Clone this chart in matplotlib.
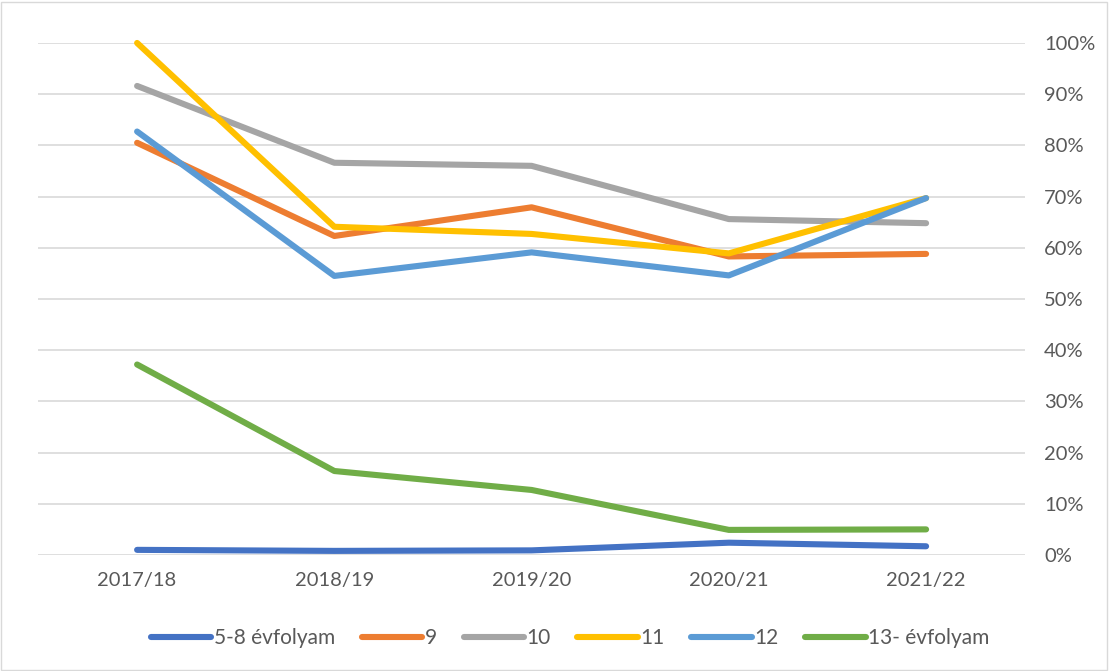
import matplotlib.pyplot as plt
from matplotlib.patches import Rectangle
from matplotlib.ticker import PercentFormatter

years = ['2017/18', '2018/19', '2019/20', '2020/21', '2021/22']

grade_5_8 = [1.0, 0.8, 0.9, 2.4, 1.7]
grade_9 = [80.5, 62.3, 67.9, 58.3, 58.8]
grade_10 = [91.6, 76.6, 76.0, 65.6, 64.8]
grade_11 = [100.0, 64.1, 62.7, 58.9, 69.7]
grade_12 = [82.7, 54.5, 59.1, 54.6, 69.7]
grade_13 = [37.2, 16.4, 12.7, 4.9, 5.0]

labels = ['5-8 évfolyam', '9', '10', '11', '12', '13- évfolyam']
colors = ['#4472C4', '#ED7D31', '#A5A5A5', '#FFC000', '#5B9BD5', '#70AD47']
series = [grade_5_8, grade_9, grade_10, grade_11, grade_12, grade_13]

plt.rcParams['font.family'] = ['Lato', 'DejaVu Sans']
text_col = '#595959'

fig = plt.figure(figsize=(11.09, 6.71), dpi=100)
ax = fig.add_axes([0.0347, 0.1729, 0.8893, 0.7631])

x = range(len(years))
for vals, lab, col in zip(series, labels, colors):
    ax.plot(x, [v / 100 for v in vals], color=col, lw=4.4, label=lab,
            solid_capstyle='round', solid_joinstyle='round', clip_on=False)

ax.set_xlim(-0.5, len(years) - 0.5)
ax.set_ylim(0, 1)
ax.set_yticks([i / 10 for i in range(11)])
ax.yaxis.set_major_formatter(PercentFormatter(1.0, decimals=0))
ax.yaxis.tick_right()
ax.set_xticks(list(x))
ax.set_xticklabels(years)
ax.tick_params(axis='y', length=0, pad=14, labelsize=14.5, labelcolor=text_col)
ax.tick_params(axis='x', length=0, pad=12, labelsize=14.5, labelcolor=text_col)
ax.grid(axis='y', color='#D9D9D9', lw=1.2)
ax.set_axisbelow(True)
for s in ax.spines.values():
    s.set_visible(False)

leg = fig.legend(loc='center', bbox_to_anchor=(0.514, 0.049), ncol=6,
                 frameon=False, fontsize=15, handlelength=2.9,
                 handletextpad=0.1, columnspacing=1.3)
for t in leg.get_texts():
    t.set_color(text_col)

fig.patches.append(Rectangle((0.001, 0.002), 0.997, 0.995, transform=fig.transFigure,
                             fill=False, edgecolor='#D9D9D9', lw=1))

fig.savefig('out.png', dpi=100)
